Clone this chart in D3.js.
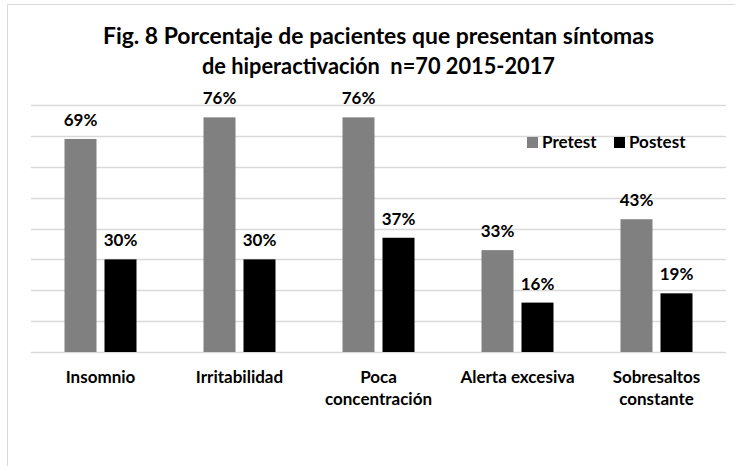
<!DOCTYPE html>
<html>
<head>
<meta charset="utf-8">
<script src="https://cdn.jsdelivr.net/npm/d3@7"></script>
<style>
  body { margin: 0; background: #fff; }
  svg { display: block; font-family: Lato, "Open Sans", sans-serif; font-weight: bold; }
  svg text { white-space: pre; }
</style>
</head>
<body>
<svg width="741" height="466"></svg>
<script>
// data
var categories = ["Insomnio", "Irritabilidad", "Poca concentración", "Alerta excesiva", "Sobresaltos constante"];
var labelLines = [["Insomnio"], ["Irritabilidad"], ["Poca", "concentración"], ["Alerta excesiva"], ["Sobresaltos", "constante"]];
var seriesNames = ["Pretest", "Postest"];
var pretest = [0.69, 0.76, 0.76, 0.33, 0.43];
var postest = [0.30, 0.30, 0.37, 0.16, 0.19];
var yTicks = [0, 0.1, 0.2, 0.3, 0.4, 0.5, 0.6, 0.7, 0.8];
var titleLines = ["Fig. 8 Porcentaje de pacientes que presentan síntomas", "de hiperactivación  n=70 2015-2017"];

var svg = d3.select("svg"),
    width = +svg.attr("width"),
    height = +svg.attr("height");

var color = d3.scaleOrdinal().domain(seriesNames).range(["#808080", "#000000"]);

var x0 = d3.scaleBand().domain(categories).range([31, 726]);
var x1 = d3.scaleBand().domain(seriesNames).range([0, x0.bandwidth()])
    .paddingInner(0.2).paddingOuter(0.8375);
var y = d3.scaleLinear().domain([0, 0.8]).range([352, 105]);

// chart border (top + left only visible)
svg.append("path")
    .attr("d", "M7.5,466 V4.5 H735")
    .attr("fill", "none")
    .attr("stroke", "#d9d9d9")
    .attr("stroke-width", 1);

// gridlines
svg.append("g")
    .selectAll("line")
    .data(yTicks)
    .enter().append("line")
    .attr("x1", 31)
    .attr("x2", 726)
    .attr("y1", function (d) { return Math.round(y(d)) + 0.5; })
    .attr("y2", function (d) { return Math.round(y(d)) + 0.5; })
    .attr("stroke", "#d9d9d9")
    .attr("stroke-width", 1.3);

// title
var title = svg.append("text")
    .attr("text-anchor", "middle")
    .attr("font-size", 22)
    .attr("fill", "#000");
title.selectAll("tspan")
    .data(titleLines)
    .enter().append("tspan")
    .attr("x", 378.5)
    .attr("y", function (d, i) { return 44 + i * 30; })
    .attr("textLength", function (d, i) { return i == 0 ? 551 : 353; })
    .attr("lengthAdjust", "spacingAndGlyphs")
    .text(function (d) { return d; });

// bars
var rows = categories.map(function (c, i) {
    return { cat: c, vals: [{ s: "Pretest", v: pretest[i] }, { s: "Postest", v: postest[i] }] };
});

var group = svg.append("g")
    .selectAll("g")
    .data(rows)
    .enter().append("g")
    .attr("transform", function (d) { return "translate(" + x0(d.cat) + ",0)"; });

group.selectAll("rect")
    .data(function (d) { return d.vals; })
    .enter().append("rect")
    .attr("x", function (d) { return x1(d.s); })
    .attr("y", function (d) { return y(d.v); })
    .attr("width", x1.bandwidth())
    .attr("height", function (d) { return y(0) - y(d.v); })
    .attr("fill", function (d) { return color(d.s); });

group.selectAll("text")
    .data(function (d) { return d.vals; })
    .enter().append("text")
    .attr("x", function (d) { return x1(d.s) + x1.bandwidth() / 2; })
    .attr("y", function (d) { return y(d.v) - 13; })
    .attr("text-anchor", "middle")
    .attr("font-size", 17)
    .attr("fill", "#000")
    .text(function (d) { return Math.round(d.v * 100) + "%"; });

// category labels
var xlab = svg.append("g")
    .selectAll("text")
    .data(categories)
    .enter().append("text")
    .attr("text-anchor", "middle")
    .attr("font-size", 17)
    .attr("fill", "#000");
xlab.selectAll("tspan")
    .data(function (d, i) { return labelLines[i].map(function (t) { return { t: t, c: d }; }); })
    .enter().append("tspan")
    .attr("x", function (d) { return x0(d.c) + x0.bandwidth() / 2; })
    .attr("y", function (d, j) { return 383 + j * 22; })
    .text(function (d) { return d.t; });

// legend
var legend = svg.append("g")
    .attr("transform", "translate(527,137)");
var legX = [0, 87];
seriesNames.forEach(function (name, i) {
    var row = legend.append("g")
        .attr("transform", "translate(" + legX[i] + ",0)");
    row.append("rect")
        .attr("width", 11)
        .attr("height", 11)
        .attr("fill", color(name));
    row.append("text")
        .attr("x", 15)
        .attr("y", 11)
        .attr("font-size", 17)
        .attr("fill", "#000")
        .text(name);
});
</script>
</body>
</html>
